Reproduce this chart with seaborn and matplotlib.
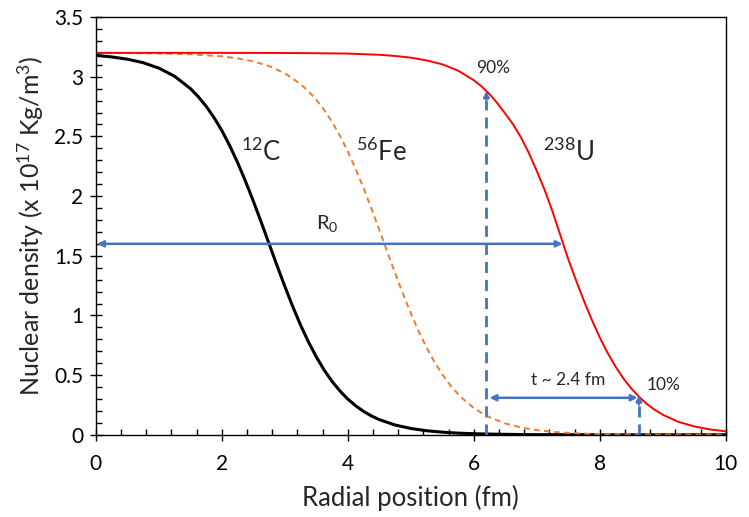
import numpy as np
import pandas as pd
import matplotlib
matplotlib.use("Agg")
import matplotlib.pyplot as plt
import seaborn as sns
from matplotlib.ticker import MultipleLocator

# ---- data ----
r_C = [0.0, 0.25, 0.5, 0.75, 1.0, 1.25, 1.5, 1.625, 1.75, 1.875, 2.0, 2.125, 2.25,
       2.375, 2.5, 2.625, 2.75, 2.875, 3.0, 3.125, 3.25, 3.375, 3.5, 3.625, 3.75,
       3.875, 4.0, 4.125, 4.25, 4.375, 4.5, 4.75, 5.0, 5.25, 5.5, 5.75, 6.0, 6.25,
       6.5, 6.75, 7.0, 7.5, 8.0, 9.0, 10.0]
rho_C = [3.179, 3.166, 3.147, 3.118, 3.072, 3.004, 2.901, 2.833, 2.753, 2.658, 2.549,
         2.422, 2.281, 2.125, 1.957, 1.781, 1.600, 1.419, 1.243, 1.075, 0.919, 0.778,
         0.652, 0.542, 0.447, 0.367, 0.299, 0.243, 0.196, 0.158, 0.127, 0.082, 0.053,
         0.034, 0.022, 0.014, 0.009, 0.006, 0.004, 0.002, 0.001, 0.001, 0.0, 0.0, 0.0]

r_Fe = [0.0, 0.5, 1.0, 1.5, 2.0, 2.25, 2.5, 2.75, 3.0, 3.25, 3.375, 3.5, 3.625, 3.75,
        3.875, 4.0, 4.125, 4.25, 4.375, 4.5, 4.625, 4.75, 4.875, 5.0, 5.125, 5.25,
        5.375, 5.5, 5.625, 5.75, 5.875, 6.0, 6.125, 6.25, 6.5, 6.75, 7.0, 7.25, 7.5,
        7.75, 8.0, 8.5, 9.0, 9.5, 10.0]
rho_Fe = [3.199, 3.198, 3.195, 3.188, 3.171, 3.154, 3.129, 3.089, 3.029, 2.938, 2.878,
          2.806, 2.721, 2.621, 2.505, 2.373, 2.226, 2.066, 1.895, 1.716, 1.535, 1.355,
          1.181, 1.017, 0.866, 0.731, 0.610, 0.506, 0.416, 0.341, 0.278, 0.225, 0.182,
          0.147, 0.095, 0.061, 0.039, 0.025, 0.016, 0.010, 0.006, 0.003, 0.001, 0.0005,
          0.0002]

r_U = [0.0, 1.0, 2.0, 3.0, 3.5, 4.0, 4.5, 4.75, 5.0, 5.25, 5.5, 5.75, 6.0, 6.125,
       6.25, 6.375, 6.5, 6.625, 6.75, 6.875, 7.0, 7.125, 7.25, 7.375, 7.5, 7.625,
       7.75, 7.875, 8.0, 8.125, 8.25, 8.375, 8.5, 8.625, 8.75, 8.875, 9.0, 9.25, 9.5,
       9.75, 10.0]
rho_U = [3.200, 3.200, 3.200, 3.199, 3.197, 3.194, 3.184, 3.174, 3.160, 3.137, 3.104,
         3.051, 2.971, 2.918, 2.854, 2.777, 2.690, 2.600, 2.490, 2.360, 2.210, 2.050,
         1.870, 1.670, 1.470, 1.291, 1.120, 0.961, 0.815, 0.685, 0.571, 0.472, 0.388,
         0.317, 0.257, 0.209, 0.168, 0.108, 0.070, 0.045, 0.029]

R0_U = 7.41          # half-density radius of U
half_rho = 1.6
r90 = 6.2
rho90 = 2.88
r10 = 8.62
rho10 = 0.33

x_ticks = [0, 2, 4, 6, 8, 10]
y_ticks = [0, 0.5, 1, 1.5, 2, 2.5, 3, 3.5]

# ---- style ----
sns.set_style("ticks")
plt.rcParams['font.family'] = ['Lato', 'DejaVu Sans']
plt.rcParams['mathtext.default'] = 'regular'
plt.rcParams['mathtext.fontset'] = 'custom'
plt.rcParams['mathtext.rm'] = 'Lato'

df_C = pd.DataFrame({"r": r_C, "rho": rho_C})
df_Fe = pd.DataFrame({"r": r_Fe, "rho": rho_Fe})
df_U = pd.DataFrame({"r": r_U, "rho": rho_U})

fig = plt.figure(figsize=(7.49, 5.17), dpi=100)
ax = fig.add_axes([0.128, 0.159, 0.841, 0.808])

sns.lineplot(data=df_C, x="r", y="rho", ax=ax, color="black", lw=2.2)
sns.lineplot(data=df_Fe, x="r", y="rho", ax=ax, color="#ED7D31", lw=1.4,
             linestyle=(0, (3, 2.2)))
sns.lineplot(data=df_U, x="r", y="rho", ax=ax, color="#FF0000", lw=1.4)

blue = "#4472C4"
# R0 arrow
ax.annotate("", xy=(0.02, half_rho), xytext=(R0_U, half_rho),
            arrowprops=dict(arrowstyle="<|-|>", color=blue, lw=1.8,
                            mutation_scale=9, shrinkA=0, shrinkB=0))
# 90% dashed vertical
ax.plot([r90, r90], [0, rho90 - 0.08], color=blue, lw=2, linestyle=(0, (4, 2.5)))
ax.annotate("", xy=(r90, rho90), xytext=(r90, rho90 - 0.1),
            arrowprops=dict(arrowstyle="-|>", color=blue, lw=1.5,
                            mutation_scale=9, shrinkA=0, shrinkB=0))
# 10% dashed vertical
ax.plot([r10, r10], [0, rho10 - 0.06], color=blue, lw=2, linestyle=(0, (4, 2.5)))
ax.annotate("", xy=(r10, rho10), xytext=(r10, rho10 - 0.08),
            arrowprops=dict(arrowstyle="-|>", color=blue, lw=1.5,
                            mutation_scale=9, shrinkA=0, shrinkB=0))
# t arrow
ax.annotate("", xy=(r90 + 0.05, 0.31), xytext=(r10 - 0.02, 0.31),
            arrowprops=dict(arrowstyle="<|-|>", color=blue, lw=1.8,
                            mutation_scale=9, shrinkA=0, shrinkB=0))

# labels
ax.text(3.68, 1.77, "R$_0$", fontsize=14.5, ha="center", va="center")
ax.text(7.5, 0.46, "t ~ 2.4 fm", fontsize=12.5, ha="center", va="center")
ax.text(6.3, 3.07, "90%", fontsize=12.5, ha="center", va="center")
ax.text(9.02, 0.42, "10%", fontsize=12.5, ha="center", va="center")
ax.text(2.63, 2.37, "$^{12}$C", fontsize=18.5, ha="center", va="center")
ax.text(4.53, 2.37, "$^{56}$Fe", fontsize=18.5, ha="center", va="center")
ax.text(7.51, 2.37, "$^{238}$U", fontsize=18.5, ha="center", va="center")

ax.set_xlim(0, 10)
ax.set_ylim(0, 3.5)
ax.set_xticks(x_ticks)
ax.set_yticks(y_ticks)
ax.set_xticklabels([str(v) for v in x_ticks])
ax.set_yticklabels([("%g" % v) for v in y_ticks])
ax.xaxis.set_minor_locator(MultipleLocator(0.4))
ax.yaxis.set_minor_locator(MultipleLocator(0.1))
ax.tick_params(which="major", direction="inout", length=8, width=1, colors="black",
               labelsize=15, pad=5)
ax.tick_params(which="minor", direction="in", length=4, width=1, colors="black")
ax.tick_params(axis="x", which="major", pad=10)

for s in ax.spines.values():
    s.set_visible(True)
    s.set_color("black")
    s.set_linewidth(1.0)

ax.set_xlabel("Radial position (fm)", fontsize=18.5, labelpad=8)
ax.set_ylabel("Nuclear density (x 10$^{17}$ Kg/m$^3$)", fontsize=18, labelpad=6)

fig.savefig("out.png", dpi=100)
